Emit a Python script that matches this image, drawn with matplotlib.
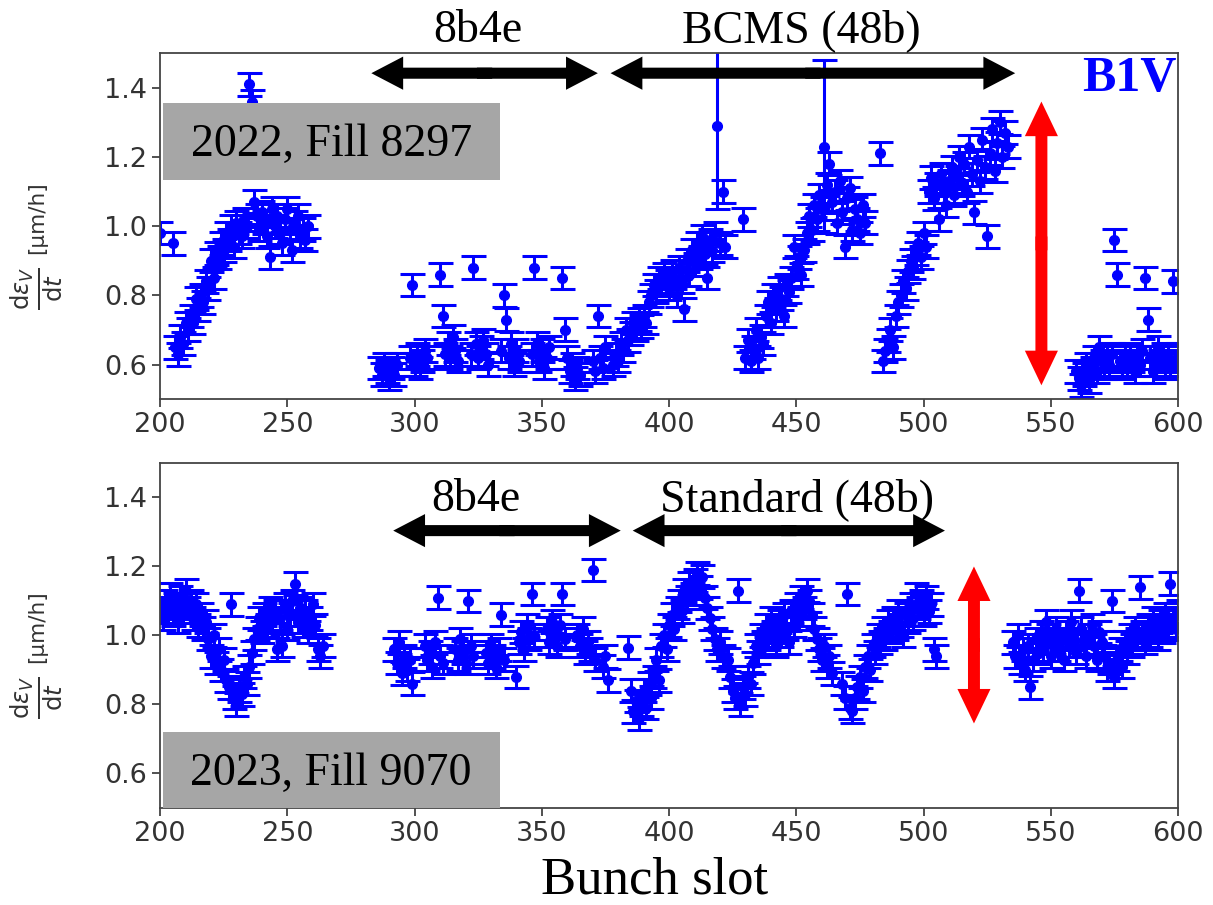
import matplotlib.pyplot as plt
import numpy as np
from matplotlib.patches import FancyArrow, Rectangle

SERIF = ['Liberation Serif', 'DejaVu Serif']

# ---- Fill 8297 (2022): emittance growth rate per bunch slot ----
x22_pre = [200, 205]
y22_pre = [0.98, 0.95]

# first train, consecutive slots from 206
y22_t1 = [0.65, 0.63, 0.68, 0.66, 0.72, 0.70, 0.74, 0.72, 0.79, 0.76,
          0.80, 0.78, 0.84, 0.82, 0.90, 0.85, 0.92, 0.91, 0.95, 0.93,
          0.98, 0.96, 1.00, 0.94, 1.01, 0.98, 0.97, 1.02, 1.00, 1.41,
          1.36, 1.07, 1.03, 0.99, 1.04, 1.01, 0.97, 0.91, 1.05, 1.00,
          1.03, 0.98, 0.95, 1.02, 1.05, 0.99, 0.93, 1.01, 1.03, 0.97,
          0.99, 0.96, 1.00]

# 8b4e batches
x22_8b4e_starts = [286, 298, 310, 322, 334, 346, 358, 370]
y22_8b4e = [
    [0.59, 0.57, 0.60, 0.58, 0.56, 0.59, 0.57, 0.60],
    [0.62, 0.83, 0.60, 0.63, 0.59, 0.61, 0.64, 0.62],
    [0.86, 0.74, 0.63, 0.66, 0.62, 0.68, 0.64, 0.61],
    [0.63, 0.88, 0.66, 0.62, 0.65, 0.67, 0.63, 0.60],
    [0.64, 0.80, 0.73, 0.62, 0.66, 0.60, 0.64, 0.61],
    [0.63, 0.88, 0.66, 0.61, 0.64, 0.59, 0.62, 0.65],
    [0.85, 0.70, 0.62, 0.58, 0.60, 0.56, 0.59, 0.57],
    [0.61, 0.58, 0.74, 0.62, 0.59, 0.65],
]

# BCMS trains
y22_bcms1 = [0.60, 0.63, 0.61, 0.66, 0.64, 0.70, 0.67, 0.69, 0.72, 0.70,   # 378-
             0.73, 0.71, 0.74, 0.72, 0.78, 0.80, 0.83, 0.81, 0.85, 0.83,
             0.86, 0.84, 0.82, 0.87, 0.85, 0.80, 0.88, 0.84, 0.76, 0.90,
             0.86, 0.93, 0.89, 0.95, 0.91, 0.97, 0.92, 0.85, 0.96, 0.93,
             0.98, 1.29, 0.95, 1.10, 0.94]
y22_bcms2 = [1.02, 0.62, 0.67, 0.61, 0.65, 0.70, 0.62, 0.68, 0.66, 0.74,   # 429-
             0.78, 0.72, 0.80, 0.76, 0.82, 0.79, 0.74, 0.83, 0.81, 0.85,
             0.94, 0.88, 0.91, 0.86, 0.93, 0.98, 1.03, 0.99, 1.06, 1.02,
             1.09, 1.05, 1.23, 1.12, 1.18, 1.07, 1.10, 1.01, 1.13, 1.04,
             0.94, 1.08, 1.11, 0.99, 1.05, 1.02, 0.98, 1.06, 1.01]
y22_bcms3 = [1.21, 0.61, 0.64, 0.67, 0.70, 0.65, 0.74, 0.78, 0.80, 0.84,   # 483-
             0.82, 0.87, 0.90, 0.88, 0.92, 0.95, 0.91, 0.98, 0.94, 1.10,
             1.14, 1.08, 1.12, 1.02, 1.15, 1.10, 1.06, 1.13, 1.17, 1.09,
             1.14, 1.20, 1.12, 1.18, 1.10, 1.23, 1.15, 1.04, 1.19, 1.13,
             1.25, 1.17, 0.97, 1.21, 1.28, 1.16, 1.24, 1.30, 1.20, 1.27,
             1.23]
y22_tail = [0.58, 0.56, 0.54, 0.57, 0.60, 0.55, 0.59, 0.62, 0.58, 0.65,   # 560-
            0.61, 0.59, 0.62, 0.60, 0.63, 0.96, 0.86, 0.61, 0.59, 0.62,
            0.60, 0.63, 0.61, 0.58, 0.62, 0.60, 0.64, 0.85, 0.73, 0.62,
            0.58, 0.60, 0.65, 0.61, 0.63, 0.59, 0.62, 0.60, 0.84, 0.61,
            0.63]
bcms_starts_22 = [378, 429, 483]
tail_start_22 = 560
wide_slots_22 = [419, 461]
wide_err_22 = [0.24, 0.25]

# ---- Fill 9070 (2023) ----
y23_t1 = [1.08, 1.05, 1.10, 1.07, 1.12, 1.06, 1.09, 1.04, 1.11, 1.07,    # 200-
          1.13, 1.08, 1.10, 1.05, 1.09, 1.03, 1.06, 1.02, 1.04, 0.99,
          0.94, 1.00, 0.92, 0.96, 0.90, 0.93, 0.87, 0.85, 1.09, 0.82,
          0.80, 0.84, 0.83, 0.88, 0.86, 0.91, 0.95, 0.99, 1.02, 1.05,
          1.01, 1.06, 1.03, 1.08, 1.04, 1.07, 0.96, 1.05, 0.97, 1.09,
          1.02, 1.06, 1.10, 1.15, 1.04, 1.08, 1.03, 1.07, 1.01, 1.05,
          1.09, 1.03, 0.96, 0.94, 0.97]
x23_8b4e_starts = [292, 304, 316, 328, 340, 352, 364, 374]
y23_8b4e = [
    [0.96, 0.92, 0.98, 0.89, 0.94, 0.90, 0.93, 0.86],
    [0.97, 0.93, 0.95, 0.91, 0.98, 1.11, 0.94, 0.92],
    [0.96, 0.93, 0.99, 0.95, 0.92, 1.10, 0.97, 0.94],
    [0.95, 0.92, 0.97, 0.94, 0.91, 0.96, 1.06, 0.93],
    [0.88, 0.98, 1.01, 0.96, 1.03, 0.99, 1.12, 1.00],
    [1.02, 0.98, 1.04, 1.00, 0.97, 1.03, 1.12, 0.99],
    [1.00, 0.97, 1.02, 0.95, 0.98, 0.96, 1.19, 0.93],
    [0.91, 0.94, 0.87],
]
y23_std1 = [0.965, 0.84, 0.78, 0.81, 0.76, 0.80, 0.84, 0.79, 0.86, 0.82,  # 384-
            0.88, 0.93, 0.87, 0.97, 1.00, 0.96, 1.03, 1.06, 1.02, 1.08,
            1.10, 1.07, 1.13, 1.11, 1.15, 1.12, 1.16, 1.18, 1.14, 1.17,
            1.11, 1.08, 1.05, 1.02, 0.99, 0.96, 0.98, 0.94]
y23_std2 = [0.93, 0.88, 0.84, 0.82, 1.13, 0.80, 0.85, 0.83, 0.88, 0.86,   # 423-
            0.92, 0.97, 0.95, 1.00, 0.98, 1.03, 0.99, 1.05, 1.01, 0.97,
            1.04, 1.00, 1.06, 1.02, 0.98, 1.07, 1.03, 1.09, 1.05, 1.11,
            1.08, 1.13, 1.10, 1.06, 1.02, 0.99, 0.96, 0.93, 0.97, 0.91,
            0.94, 0.89]
y23_std3 = [0.86, 0.82, 1.12, 0.79, 0.78, 0.82, 0.85, 0.88, 0.84, 0.91,   # 468-
            0.94, 0.90, 0.97, 0.95, 1.00, 0.98, 1.02, 0.99, 1.04, 1.01,
            1.05, 1.02, 1.07, 1.03, 1.00, 1.06, 1.04, 1.09, 1.05, 1.12,
            1.08, 1.10, 1.06, 1.11, 1.07, 1.09, 0.96, 0.94]
y23_tail = [0.98, 0.94, 1.00, 0.92, 0.96, 0.90, 0.97, 0.85, 0.93, 0.99,   # 535-
            0.95, 1.01, 0.96, 1.04, 1.00, 0.94, 0.98, 1.02, 0.96, 0.99,
            0.93, 1.01, 0.97, 1.04, 0.99, 0.95, 1.13, 1.02, 0.98, 0.94,
            1.00, 1.03, 0.97, 0.93, 1.01, 0.98, 0.94, 0.90, 0.92, 1.10,
            0.88, 0.93, 0.96, 0.91, 0.98, 0.95, 1.00, 0.97, 1.02, 0.99,
            1.14, 1.01, 0.98, 1.03, 1.00, 1.05, 1.02, 0.99, 1.04, 1.01,
            1.06, 1.03, 1.15, 1.05, 1.02, 1.07]
std_starts_23 = [384, 423, 468]
tail_start_23 = 535

ERR = 0.033


def train(start, vals):
    return list(range(start, start + len(vals))), list(vals)


def collect(pieces):
    xs, ys = [], []
    for s, v in pieces:
        x, y = train(s, v)
        xs += x
        ys += y
    return np.array(xs), np.array(ys)


pieces22 = [(s, [v]) for s, v in zip(x22_pre, y22_pre)] + [(206, y22_t1)]
pieces22 += list(zip(x22_8b4e_starts, y22_8b4e))
pieces22 += list(zip(bcms_starts_22, [y22_bcms1, y22_bcms2, y22_bcms3]))
pieces22 += [(tail_start_22, y22_tail)]
x22, y22 = collect(pieces22)
e22 = np.full(len(x22), ERR)
for s, e in zip(wide_slots_22, wide_err_22):
    e22[x22 == s] = e

pieces23 = [(200, y23_t1)] + list(zip(x23_8b4e_starts, y23_8b4e))
pieces23 += list(zip(std_starts_23, [y23_std1, y23_std2, y23_std3]))
pieces23 += [(tail_start_23, y23_tail)]
x23, y23 = collect(pieces23)
e23 = np.full(len(x23), ERR)


def hdouble(ax, x0, x1, y, color='black'):
    # two heads drawn outward from the middle, overlapping a little
    mid = 0.5 * (x0 + x1)
    for end, back in ((x0, 3), (x1, -3)):
        ax.add_patch(FancyArrow(mid + back, y, end - mid - back, 0,
                                width=0.032, head_width=0.096,
                                head_length=12.5, length_includes_head=True,
                                color=color, lw=0, zorder=6, clip_on=False))


def vdouble(ax, x, y0, y1, color='red'):
    mid = 0.5 * (y0 + y1)
    for end, back in ((y0, 0.02), (y1, -0.02)):
        ax.add_patch(FancyArrow(x, mid + back, 0, end - mid - back,
                                width=4.7, head_width=13.0, head_length=0.10,
                                length_includes_head=True, color=color,
                                lw=0, zorder=6, clip_on=False))


fig = plt.figure(figsize=(12.13, 9.05), dpi=100)
ax1 = fig.add_axes([0.132, 0.559, 0.8392, 0.3823])
ax2 = fig.add_axes([0.132, 0.1072, 0.8392, 0.3812])

for ax, x, y, e in [(ax1, x22, y22, e22), (ax2, x23, y23, e23)]:
    ax.errorbar(x, y, yerr=e, fmt='o', color='blue', ms=7, capsize=9,
                elinewidth=2.2, capthick=2.2, zorder=2)
    ax.set_xlim(200, 600)
    ax.set_ylim(0.5, 1.5)
    ax.set_xticks([200, 250, 300, 350, 400, 450, 500, 550, 600])
    ax.set_yticks([0.6, 0.8, 1.0, 1.2, 1.4])
    ax.tick_params(labelsize=19.5, labelcolor='#333333', color='#333333',
                   length=6, width=1.2)
    for sp in ax.spines.values():
        sp.set_color('#444444')
        sp.set_linewidth(1.3)
    # y label in two parts: a large fraction and the unit
    ax.text(-0.121, 0.32, r'$\frac{\mathrm{d}\varepsilon_V}{\mathrm{d}t}$',
            transform=ax.transAxes, rotation=90, ha='center', va='center',
            fontsize=25, color='#333333')
    ax.text(-0.121, 0.525, '[μm/h]', transform=ax.transAxes, rotation=90,
            ha='center', va='center', fontsize=15.5, color='#333333')

# labels of the two fills
for ax, y0, h, ty, label in [(ax1, 0.633, 0.222, 0.735, '2022, Fill 8297'),
                             (ax2, 0.0, 0.22, 0.10, '2023, Fill 9070')]:
    ax.add_patch(Rectangle((0.003, y0), 0.331, h, transform=ax.transAxes,
                           facecolor='#a6a6a6', edgecolor='none', zorder=5))
    ax.text(0.168, ty, label, transform=ax.transAxes, ha='center',
            va='center', fontsize=33, family=SERIF, zorder=7)

# filling-scheme annotations
hdouble(ax1, 283, 372, 1.442)
hdouble(ax1, 377, 536, 1.442)
ax1.text(325, 1.533, '8b4e', ha='center', va='baseline', fontsize=33,
         family=SERIF, clip_on=False)
ax1.text(452, 1.533, 'BCMS (48b)', ha='center', va='baseline', fontsize=33,
         family=SERIF, clip_on=False)
ax1.text(581, 1.39, 'B1V', ha='center', va='baseline', fontsize=36,
         family=SERIF, fontweight='bold', color='blue')
vdouble(ax1, 546.3, 0.54, 1.36)

hdouble(ax2, 291.6, 381, 1.304)
hdouble(ax2, 385.7, 508.4, 1.304)
ax2.text(324, 1.362, '8b4e', ha='center', va='baseline', fontsize=33,
         family=SERIF)
ax2.text(450.4, 1.362, 'Standard (48b)', ha='center', va='baseline',
         fontsize=33, family=SERIF)
vdouble(ax2, 519.8, 0.745, 1.20)

fig.text(0.54, 1 - 893 / 905, 'Bunch slot', ha='center', va='baseline',
         fontsize=38, family=SERIF)

fig.savefig('out.png', dpi=100)
